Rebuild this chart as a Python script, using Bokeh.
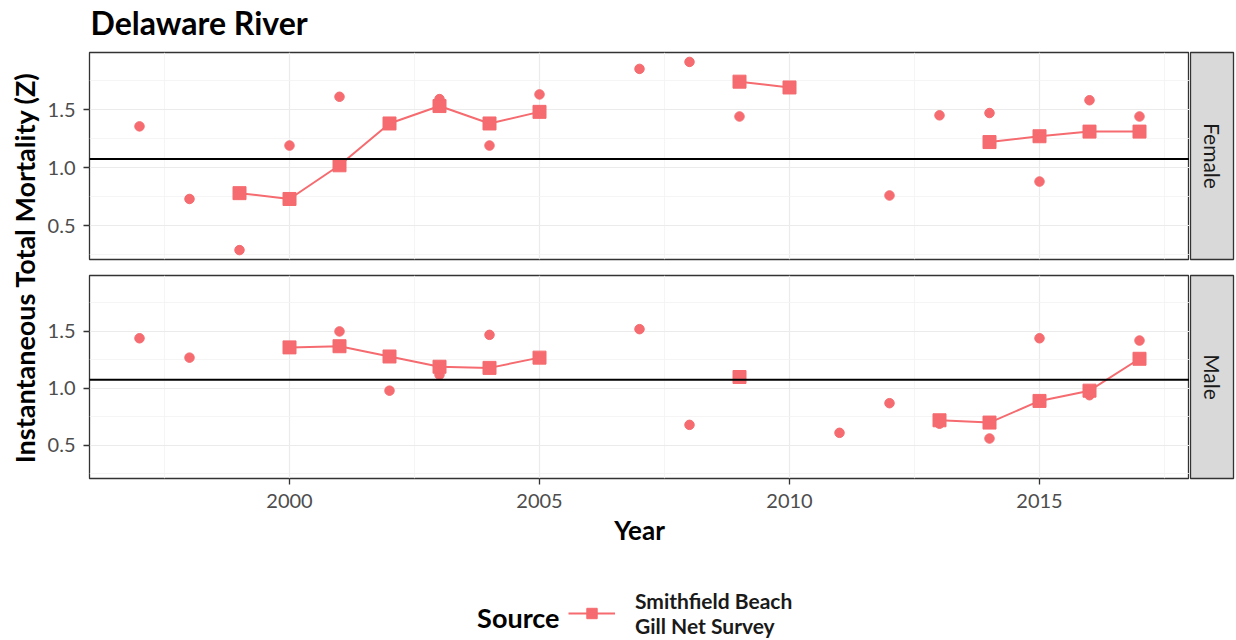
import math
from bokeh.plotting import figure
from bokeh.models import Range1d, FixedTicker, Span, Label, Legend, LegendItem, PrintfTickFormatter
from bokeh.layouts import row, column
from bokeh.embed import file_html
from bokeh.resources import INLINE

nan = float("nan")

# ---------------- data ----------------
years = list(range(1997, 2018))
# Smithfield Beach Gill Net Survey (squares + line)
female_survey = [nan, nan, 0.78, 0.73, 1.02, 1.38, 1.53, 1.38, 1.48, nan, nan, nan,
                 1.74, 1.69, nan, nan, nan, 1.22, 1.27, 1.31, 1.31]
male_survey = [nan, nan, nan, 1.36, 1.37, 1.28, 1.19, 1.18, 1.27, nan, nan, nan,
               1.10, nan, nan, nan, 0.72, 0.70, 0.89, 0.98, 1.26]
# other estimates (circles)
female_pt_years = [1997, 1998, 1999, 2000, 2001, 2003, 2004, 2005, 2007, 2008, 2009,
                   2012, 2013, 2014, 2015, 2016, 2017]
female_pt_z = [1.355, 0.73, 0.29, 1.19, 1.61, 1.59, 1.19, 1.63, 1.85, 1.91, 1.44,
               0.76, 1.45, 1.47, 0.88, 1.58, 1.44]
male_pt_years = [1997, 1998, 2001, 2002, 2003, 2004, 2005, 2007, 2008, 2009, 2011,
                 2012, 2013, 2014, 2015, 2016, 2017]
male_pt_z = [1.44, 1.27, 1.50, 0.98, 1.12, 1.47, 1.26, 1.52, 0.68, 1.10, 0.61,
             0.87, 0.69, 0.56, 1.44, 0.94, 1.42]
reference_z = 1.075
x_ticks = [2000, 2005, 2010, 2015]
x_minor = [1997.5, 2002.5, 2007.5, 2012.5, 2017.5]
y_ticks = [0.5, 1.0, 1.5]
y_minor = [0.25, 0.75, 1.25, 1.75]
facets = ["Female", "Male"]
title_text = "Delaware River"
x_label = "Year"
y_label = "Instantaneous Total Mortality (Z)"
legend_title = "Source"
legend_label = "Smithfield Beach\nGill Net Survey"

# ---------------- style ----------------
FONT = "Lato"
C = "#F56B6F"
BORDER = "#333333"
GRID = "#EBEBEB"
TOTAL_H = 638

all_z = [v for v in female_survey + male_survey + female_pt_z + male_pt_z if v == v]
lo, hi = min(all_z), max(all_z)
pad = 0.05 * (hi - lo)
yr = Range1d(lo - pad, hi + pad)
xr = Range1d(min(years) - 1, max(years) + 1)


def blank(width, height, xrange, yrange, **kw):
    f = figure(width=width, height=height, x_range=xrange, y_range=yrange,
               output_backend="svg", toolbar_location=None, tools="",
               x_axis_location=None, y_axis_location=None, **kw)
    f.grid.visible = False
    f.outline_line_color = None
    return f


def make_panel(height, top, bottom, survey, pt_years, pt_z, show_x):
    kw = dict(width=1145, height=height, x_range=xr, y_range=yr, output_backend="svg",
              toolbar_location=None, tools="", min_border_left=45, min_border_right=0,
              min_border_top=top, min_border_bottom=bottom)
    if not show_x:
        kw["x_axis_location"] = None
    p = figure(**kw)
    p.background_fill_color = "white"
    p.border_fill_color = "white"
    p.outline_line_color = BORDER
    p.outline_line_width = 1.3
    xt = FixedTicker(ticks=x_ticks, minor_ticks=x_minor)
    yt = FixedTicker(ticks=y_ticks, minor_ticks=y_minor)
    p.xgrid.ticker = xt
    p.ygrid.ticker = yt
    for g in (p.xgrid, p.ygrid):
        g.grid_line_color = GRID
        g.grid_line_width = 1.2
        g.minor_grid_line_color = "#F3F3F3"
        g.minor_grid_line_width = 0.8
    p.yaxis.ticker = yt
    p.yaxis.formatter = PrintfTickFormatter(format="%.1f")
    if show_x:
        p.xaxis.ticker = xt
        p.xaxis.formatter = PrintfTickFormatter(format="%d")
        p.xaxis.axis_label = x_label
        p.xaxis.axis_label_text_font = FONT
        p.xaxis.axis_label_text_font_size = "26px"
        p.xaxis.axis_label_text_font_style = "bold"
        p.xaxis.axis_label_text_color = "black"
        p.xaxis.axis_label_standoff = 3
        p.xaxis.major_label_standoff = 9
    p.yaxis.major_label_standoff = 8
    for ax in p.axis:
        ax.axis_line_color = None
        ax.major_tick_line_color = BORDER
        ax.major_tick_line_width = 1.3
        ax.major_tick_out = 6
        ax.major_tick_in = 0
        ax.minor_tick_line_color = None
        ax.major_label_text_font = FONT
        ax.major_label_text_font_size = "20px"
        ax.major_label_text_color = "#4D4D4D"
    p.scatter(pt_years, pt_z, marker="circle", size=9.5, color=C)
    p.line(years, survey, line_color=C, line_width=2)
    p.scatter(years, survey, marker="square", size=13, color=C)
    p.add_layout(Span(location=reference_z, dimension="width", line_color="black", line_width=2))
    return p


def make_strip(height, top, bottom, text):
    s = figure(width=46, height=height, x_range=Range1d(0, 1), y_range=Range1d(0, 1),
               output_backend="svg", toolbar_location=None, tools="",
               x_axis_location=None, y_axis_location=None,
               min_border_left=1, min_border_right=2, min_border_top=top, min_border_bottom=bottom)
    s.grid.visible = False
    s.background_fill_color = "#D9D9D9"
    s.border_fill_color = "white"
    s.outline_line_color = BORDER
    s.outline_line_width = 1.3
    s.add_layout(Label(x=0.5, y=0.5, text=text, angle=-math.pi / 2, text_align="center",
                       text_baseline="middle", text_font=FONT, text_font_size="21px",
                       text_color="#1A1A1A"))
    return s


# title strip (pixel-aligned ranges)
tf = blank(1191, 44, Range1d(44, 1235), Range1d(44, 0), min_border=0)
tf.add_layout(Label(x=90, y=22, text=title_text, text_align="left", text_baseline="middle",
                    text_font=FONT, text_font_size="32px", text_font_style="bold",
                    text_color="black"))

top = make_panel(223, 8, 8, female_survey, female_pt_years, female_pt_z, False)
bot = make_panel(281, 8, 66, male_survey, male_pt_years, male_pt_z, True)
ts = make_strip(223, 8, 8, facets[0])
bs = make_strip(281, 8, 66, facets[1])

# y axis title spanning both panels
yl = blank(44, TOTAL_H, Range1d(0, 44), Range1d(TOTAL_H, 0), min_border=0)
yl.add_layout(Label(x=24, y=267, text=y_label, angle=math.pi / 2, text_align="center",
                    text_baseline="middle", text_font=FONT, text_font_size="27px",
                    text_font_style="bold", text_color="black"))

# legend strip
lf = blank(1145, 90, Range1d(44, 1189), Range1d(TOTAL_H, 548), min_border=0)
kl = lf.line(x=[nan], y=[nan], line_color=C, line_width=2)
ks = lf.scatter(x=[nan], y=[nan], marker="square", size=13, color=C)
leg = Legend(items=[LegendItem(label=legend_label, renderers=[kl, ks])],
             location=(568 - 44, 0), orientation="vertical",
             label_text_font=FONT, label_text_font_style="bold", label_text_font_size="21px",
             label_text_color="#1A1A1A", label_standoff=20, glyph_width=47, glyph_height=26,
             padding=0, margin=0, spacing=0, border_line_color=None, background_fill_alpha=0)
lf.add_layout(leg)
lf.add_layout(Label(x=559, y=617, text=legend_title, text_align="right", text_baseline="middle",
                    text_font=FONT, text_font_size="27px", text_font_style="bold",
                    text_color="black"))

layout = row(yl, column(tf, row(top, ts), row(bot, bs), lf))

open("out.html", "w").write(file_html(layout, INLINE))
